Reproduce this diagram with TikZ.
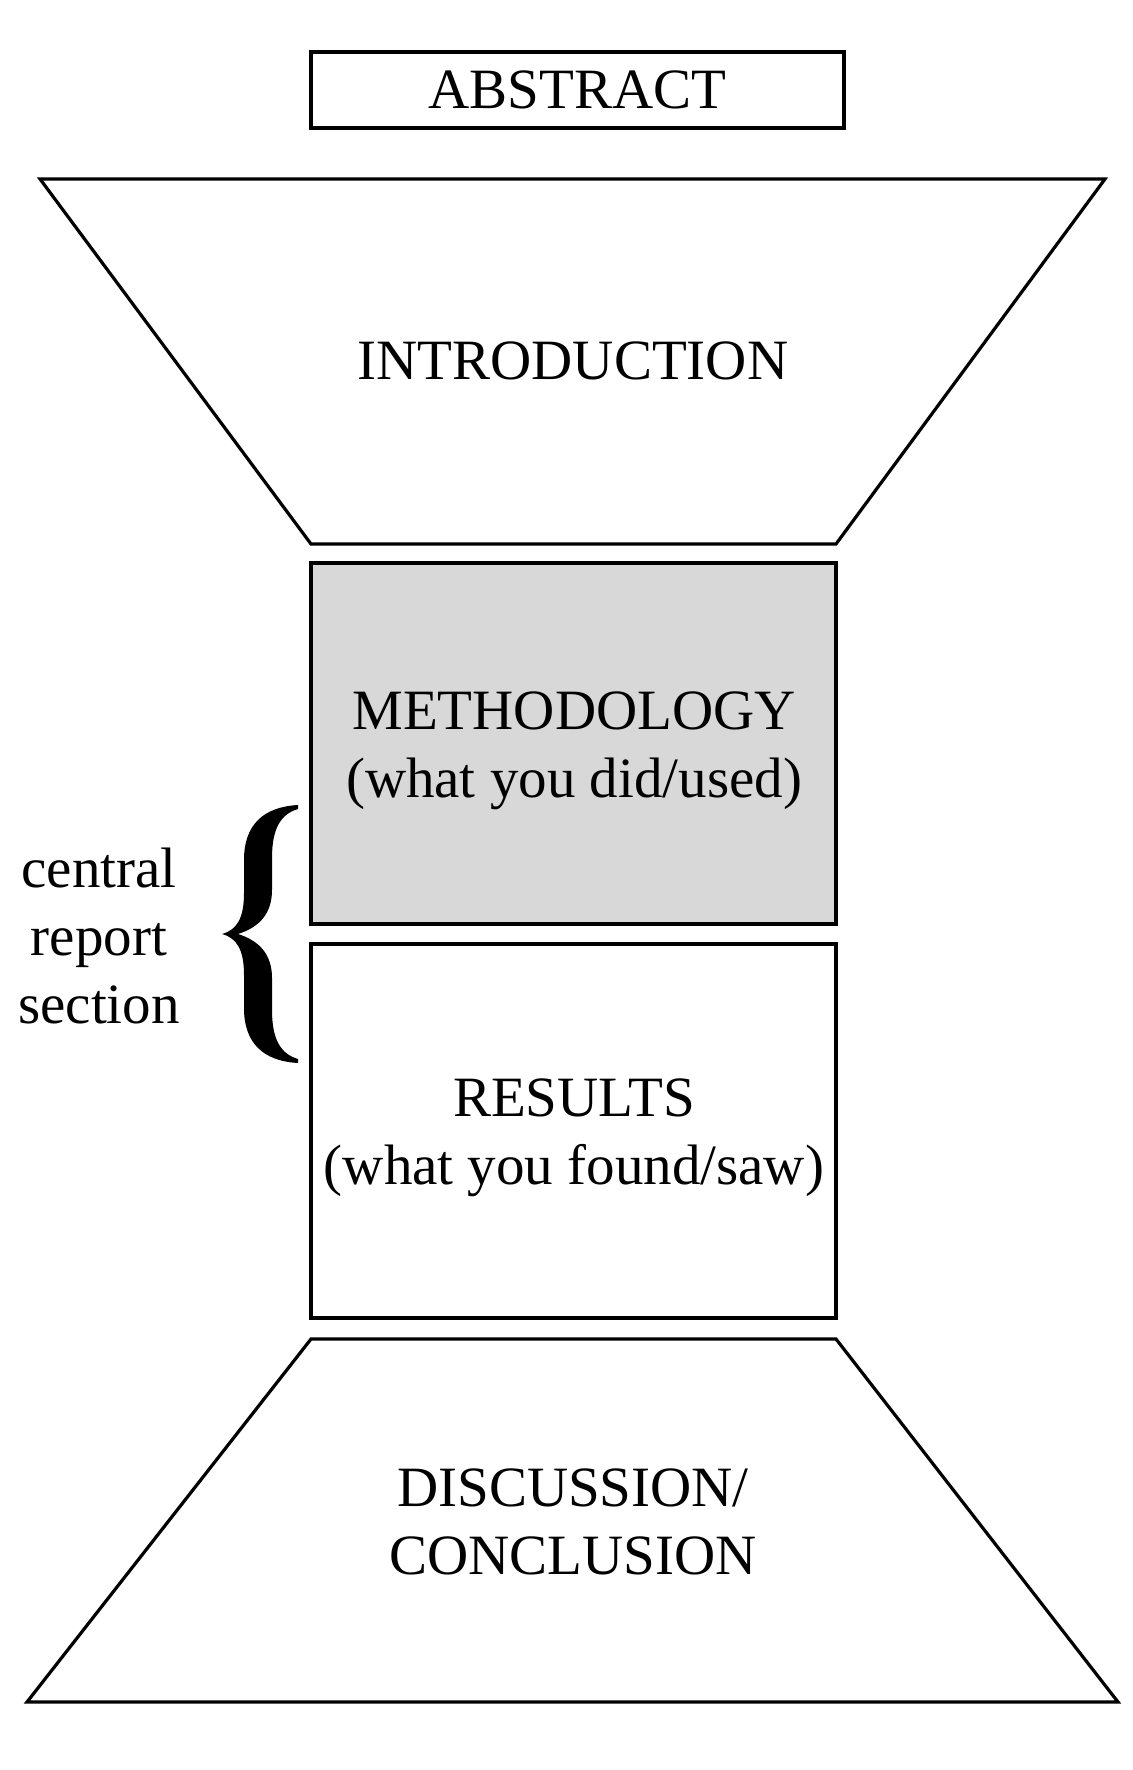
\documentclass[tikz,border=0pt]{standalone}
\usepackage{fontspec}
\setmainfont{Liberation Serif}
\definecolor{boxgray}{RGB}{216,216,216}
\begin{document}
\begin{tikzpicture}[x=0.5pt,y=-0.5pt,
  outline/.style={draw=black,line width=1.6pt,line join=miter},
  label/.style={font=\fontsize{28.5}{34}\selectfont,align=center,inner sep=0pt}]
\useasboundingbox (0,0) rectangle (1132,1770);
% abstract
\draw[outline] (311,52) rectangle (844,128);
\node[label] (abstract) at (577.5,90) {ABSTRACT};
% introduction
\draw[outline] (40,179) -- (1105,179) -- (836,544) -- (311,544) -- cycle;
\node[label] (intro) at (573,361) {INTRODUCTION};
% methodology
\draw[outline,fill=boxgray] (311,563) rectangle (836,924);
\node[label] (method) at (574,751) {METHODOLOGY\\(what you did/used)};
% results
\draw[outline] (311,944) rectangle (836,1318);
\node[label] (results) at (574,1138) {RESULTS\\(what you found/saw)};
% discussion
\draw[outline] (311,1339) -- (836,1339) -- (1118,1702) -- (27,1702) -- cycle;
\node[label] (disc) at (573,1522) {DISCUSSION/\\CONCLUSION};
% brace
\fill[black] (298,805) .. controls (263,807) and (244,825) .. (244,860)
  -- (244,893) .. controls (244,918) and (237,930) .. (222,934)
  .. controls (237,938) and (244,950) .. (244,975)
  -- (244,1008) .. controls (244,1043) and (263,1061) .. (298,1063)
  -- (298,1059) .. controls (281,1054) and (272,1040) .. (272,1010)
  -- (272,978) .. controls (272,955) and (260,941) .. (238,934)
  .. controls (260,927) and (272,913) .. (272,890)
  -- (272,858) .. controls (272,828) and (281,814) .. (298,809) -- cycle;
\node[label] (central) at (99,936) {central\\report\\section};
\end{tikzpicture}
\end{document}
